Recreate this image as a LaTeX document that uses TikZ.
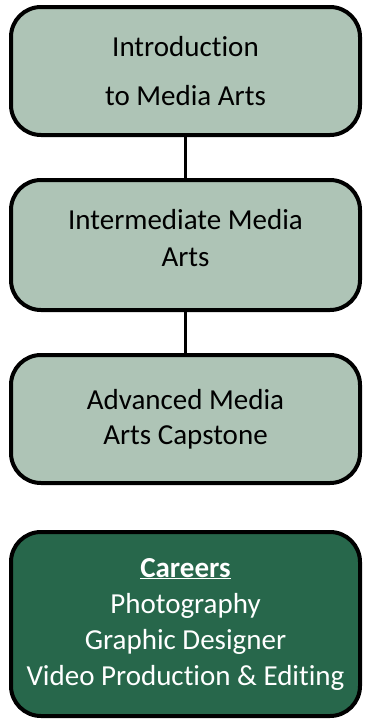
\documentclass[tikz,border=0pt]{standalone}
\usepackage{fontspec}
\setmainfont{Carlito}[Ligatures=NoCommon]
\definecolor{sage}{HTML}{AEC4B6}
\definecolor{forest}{HTML}{27674B}
\begin{document}
\begin{tikzpicture}[x=1pt,y=-1pt,
  course/.style={draw=black, line width=4pt, rounded corners=30pt, fill=sage,
    minimum width=349pt, align=center, text=black, inner sep=0pt},
  career/.style={draw=black, line width=4pt, rounded corners=30pt, fill=forest,
    minimum width=349pt, align=center, text=white, inner sep=0pt},
  link/.style={draw=black, line width=3.6pt}]
\useasboundingbox (0,0) rectangle (365,720);
\node[course, minimum height=128pt, font=\fontsize{29}{49}\selectfont] (intro) at (185.5,71)
  {Introduction\\to Media Arts};
\node[course, minimum height=130pt, font=\fontsize{29}{37}\selectfont] (inter) at (185.5,245)
  {Intermediate Media\\Arts\rule[-14pt]{0pt}{14pt}};
\node[course, minimum height=128pt, font=\fontsize{29}{35}\selectfont] (adv) at (185.5,419)
  {Advanced Media\\Arts Capstone};
\node[career, minimum height=184pt, font=\fontsize{29}{36}\selectfont] (car) at (185.5,624)
  {\underline{\textbf{Careers}}\\Photography\\Graphic Designer\\Video Production \& Editing};
\draw[link] (intro.south) -- (inter.north);
\draw[link] (inter.south) -- (adv.north);
\end{tikzpicture}
\end{document}
